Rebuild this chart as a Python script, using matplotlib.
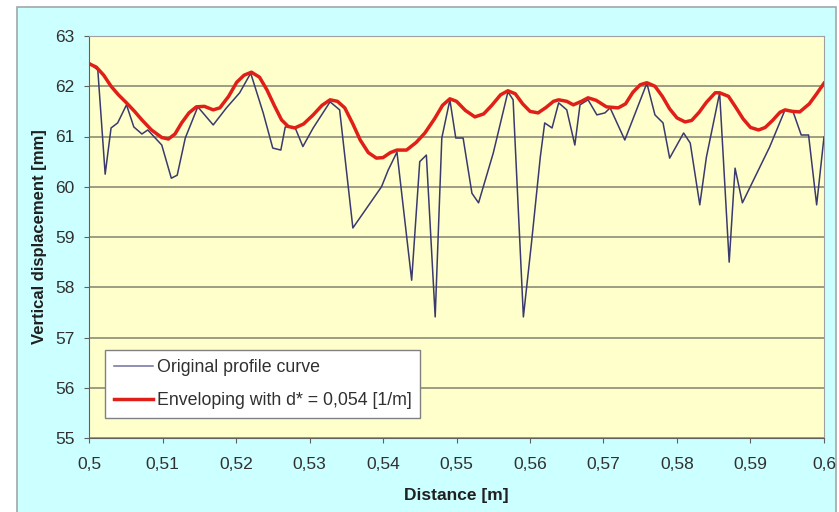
import numpy as np
import matplotlib as mpl
import matplotlib.pyplot as plt
from matplotlib.patches import Rectangle
from matplotlib.ticker import FuncFormatter

# original profile curve (distance [m], displacement [mm])
profile_x = [0.5001, 0.5012, 0.5022, 0.5030, 0.5039, 0.5051, 0.5061, 0.5072, 0.5080, 0.5099,
             0.5112, 0.5120, 0.5131, 0.5148, 0.5169, 0.5187, 0.5205, 0.5220, 0.5237, 0.5250,
             0.5261, 0.5267, 0.5280, 0.5291, 0.5305, 0.5328, 0.5341, 0.5359, 0.5398, 0.5407,
             0.5419, 0.5439, 0.5450, 0.5459, 0.5471, 0.5480, 0.5491, 0.5499, 0.5509, 0.5521,
             0.5530, 0.5550, 0.5570, 0.5577, 0.5591, 0.5602, 0.5614, 0.5620, 0.5630, 0.5639,
             0.5650, 0.5661, 0.5668, 0.5679, 0.5691, 0.5702, 0.5709, 0.5729, 0.5759, 0.5770,
             0.5781, 0.5790, 0.5809, 0.5818, 0.5831, 0.5840, 0.5858, 0.5871, 0.5879, 0.5889,
             0.5926, 0.5947, 0.5958, 0.5969, 0.5979, 0.5990, 0.6000]
profile_y = [62.46, 62.32, 60.25, 61.17, 61.27, 61.63, 61.19, 61.05, 61.13, 60.83,
             60.17, 60.23, 60.97, 61.59, 61.23, 61.57, 61.87, 62.26, 61.47, 60.77,
             60.73, 61.19, 61.19, 60.80, 61.17, 61.69, 61.53, 59.18, 60.00, 60.33,
             60.69, 58.14, 60.50, 60.63, 57.41, 60.97, 61.73, 60.97, 60.97, 59.87,
             59.68, 60.67, 61.89, 61.73, 57.41, 58.88, 60.59, 61.27, 61.17, 61.67,
             61.53, 60.83, 61.63, 61.73, 61.43, 61.47, 61.57, 60.93, 62.06, 61.43,
             61.27, 60.57, 61.07, 60.87, 59.64, 60.59, 61.87, 58.50, 60.37, 59.68,
             60.79, 61.53, 61.49, 61.03, 61.03, 59.64, 60.99]

# enveloping curve
env_x = [0.5000, 0.5010, 0.5020, 0.5030, 0.5040, 0.5051, 0.5062, 0.5072, 0.5085, 0.5099,
         0.5108, 0.5117, 0.5126, 0.5136, 0.5146, 0.5157, 0.5169, 0.5178, 0.5190, 0.5201,
         0.5211, 0.5221, 0.5232, 0.5242, 0.5252, 0.5262, 0.5271, 0.5280, 0.5292, 0.5305,
         0.5317, 0.5328, 0.5338, 0.5348, 0.5359, 0.5369, 0.5380, 0.5391, 0.5400, 0.5410,
         0.5419, 0.5432, 0.5445, 0.5457, 0.5470, 0.5481, 0.5491, 0.5500, 0.5512, 0.5525,
         0.5537, 0.5548, 0.5560, 0.5570, 0.5580, 0.5590, 0.5600, 0.5611, 0.5622, 0.5632,
         0.5639, 0.5650, 0.5659, 0.5670, 0.5679, 0.5690, 0.5704, 0.5720, 0.5730, 0.5740,
         0.5750, 0.5759, 0.5770, 0.5780, 0.5790, 0.5800, 0.5811, 0.5820, 0.5830, 0.5840,
         0.5852, 0.5858, 0.5870, 0.5880, 0.5890, 0.5900, 0.5911, 0.5920, 0.5930, 0.5940,
         0.5947, 0.5957, 0.5967, 0.5980, 0.5990, 0.6000]
env_y = [62.45, 62.38, 62.22, 62.00, 61.83, 61.67, 61.50, 61.33, 61.13, 60.98,
         60.95, 61.05, 61.27, 61.47, 61.59, 61.60, 61.53, 61.57, 61.80, 62.08,
         62.22, 62.28, 62.18, 61.93, 61.62, 61.33, 61.20, 61.17, 61.25, 61.43,
         61.62, 61.73, 61.70, 61.57, 61.25, 60.93, 60.68, 60.57, 60.58, 60.68,
         60.73, 60.73, 60.88, 61.07, 61.35, 61.62, 61.75, 61.70, 61.52, 61.39,
         61.45, 61.62, 61.83, 61.91, 61.85, 61.65, 61.50, 61.47, 61.58, 61.70,
         61.73, 61.70, 61.63, 61.70, 61.77, 61.72, 61.59, 61.57, 61.65, 61.88,
         62.03, 62.07, 62.00, 61.80, 61.55, 61.37, 61.29, 61.32, 61.48, 61.68,
         61.87, 61.87, 61.80, 61.58, 61.35, 61.18, 61.13, 61.18, 61.32, 61.48,
         61.53, 61.50, 61.49, 61.65, 61.85, 62.06]

x_ticks = [0.5, 0.51, 0.52, 0.53, 0.54, 0.55, 0.56, 0.57, 0.58, 0.59, 0.6]
y_ticks = [55, 56, 57, 58, 59, 60, 61, 62, 63]

mpl.rcParams['font.family'] = ['Liberation Sans', 'DejaVu Sans']
mpl.rcParams['font.size'] = 12.5

fig = plt.figure(figsize=(8.39, 5.12), dpi=100)
fig.patch.set_facecolor('white')
# cyan chart area with its frame
bg = Rectangle((17 / 839, -0.01), 819 / 839, 1 - 7 / 512 + 0.01,
               transform=fig.transFigure, facecolor='#ccffff',
               edgecolor='#a0a8a8', linewidth=1.2, zorder=-10)
fig.add_artist(bg)

ax = fig.add_axes([89 / 839, 1 - 438 / 512, 735 / 839, 402 / 512])
ax.set_zorder(1)
ax.set_facecolor('#ffffcc')

ax.plot(profile_x, profile_y, color='#3a3a6e', linewidth=1.1, label='Original profile curve', zorder=3)
ax.plot(env_x, env_y, color='#e02018', linewidth=2.5, label='Enveloping with d* = 0,054 [1/m]', zorder=4)

ax.set_xlim(0.5, 0.6)
ax.set_ylim(55, 63)
ax.set_xticks(x_ticks)
ax.set_yticks(y_ticks)
ax.xaxis.set_major_formatter(FuncFormatter(lambda v, p: ('%g' % round(v, 3)).replace('.', ',')))
ax.yaxis.grid(True, color='#8c8c78', linewidth=1.2)
ax.set_axisbelow(True)

for s in ['top', 'right']:
    ax.spines[s].set_color('#a0a0a0')
for s in ['left', 'bottom']:
    ax.spines[s].set_color('#606060')
ax.tick_params(axis='both', direction='out', length=3.5, color='#606060', labelcolor='#303030', labelsize=12.5)
ax.tick_params(axis='x', pad=10)
ax.tick_params(axis='y', pad=7)

ax.set_xlabel('Distance [m]', fontweight='bold', fontsize=12.5, labelpad=12, color='#202020')
ax.set_ylabel('Vertical displacement [mm]', fontweight='bold', fontsize=12, labelpad=6, color='#202020')

leg = ax.legend(loc='lower left', bbox_to_anchor=(0.022, 0.05), fancybox=False, framealpha=1,
                edgecolor='#808080', handlelength=2.2, handletextpad=0.2, borderpad=0.5,
                labelspacing=0.9, fontsize=12.8, borderaxespad=0)
leg.get_frame().set_linewidth(1.0)
leg.get_lines()[0].set_color('#7070a0')
for t in leg.get_texts():
    t.set_color('#303030')

fig.savefig('out.png', dpi=100)
